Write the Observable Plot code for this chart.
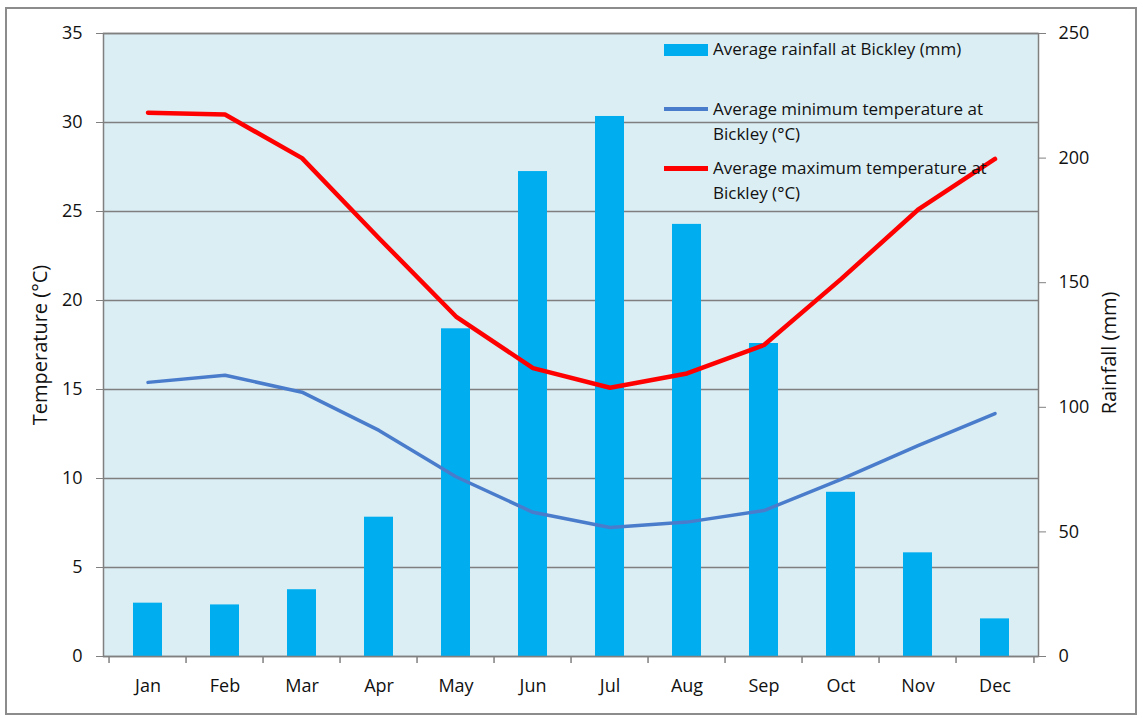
<!DOCTYPE html>
<html>
<head>
<meta charset="utf-8">
<script src="https://cdn.jsdelivr.net/npm/d3@7"></script>
<script src="https://cdn.jsdelivr.net/npm/@observablehq/plot@0.6"></script>
<style>
  html, body { margin: 0; padding: 0; background: #fff; }
  #wrap { position: relative; width: 1143px; height: 718px; font-family: "Open Sans", "Noto Sans", sans-serif; color: #111; overflow: hidden; }
  #border { position: absolute; left: 5px; top: 7px; width: 1132px; height: 708px; border: 2px solid #8c8c8c; box-sizing: border-box; pointer-events: none; }
  #legend { position: absolute; left: 664px; top: 36px; font-size: 17px; line-height: 25px; color: #111; }
  .item { position: absolute; left: 0; white-space: nowrap; }
  .sw { position: absolute; left: 0; width: 44px; }
  .txt { position: absolute; left: 49px; }
</style>
</head>
<body>
<div id="wrap">
  <div id="chart"></div>
  <div id="legend"></div>
  <div id="border"></div>
</div>
<script>
const months = ["Jan","Feb","Mar","Apr","May","Jun","Jul","Aug","Sep","Oct","Nov","Dec"];
const rainfall = [21.4, 20.7, 26.8, 55.9, 131.5, 194.6, 216.7, 173.4, 125.6, 65.9, 41.6, 15.1];
const minTemp = [15.4, 15.8, 14.85, 12.7, 10.1, 8.1, 7.25, 7.55, 8.2, 9.95, 11.85, 13.65];
const maxTemp = [30.55, 30.45, 28.0, 23.5, 19.1, 16.2, 15.1, 15.9, 17.5, 21.2, 25.1, 27.95];
const tempTicks = [0, 5, 10, 15, 20, 25, 30, 35];
const rainTicks = [0, 50, 100, 150, 200, 250];
const seriesNames = ["Average rainfall at Bickley (mm)", "Average minimum temperature at\nBickley (°C)", "Average maximum temperature at\nBickley (°C)"];
const colors = {rain: "#00aeef", min: "#4a7ccc", max: "#ff0000"};

const W = 1143, H = 718, mL = 103, mR = 105, mT = 33, mB = 62;
const k = 35 / 250; // rainfall -> temperature axis
const bw = (W - mL - mR) / months.length;

const data = months.map((m, i) => ({month: m, rain: rainfall[i], min: minTemp[i], max: maxTemp[i]}));

const plot = Plot.plot({
  width: W, height: H,
  marginLeft: mL, marginRight: mR, marginTop: mT, marginBottom: mB,
  style: {fontFamily: "'Open Sans', 'Noto Sans', sans-serif", color: "#111", background: "transparent"},
  x: {type: "band", domain: months, padding: 0},
  y: {domain: [0, 35]},
  marks: [
    Plot.frame({fill: "#dbeef4"}),
    Plot.gridY(tempTicks, {stroke: "#7f7f7f", strokeOpacity: 1, strokeWidth: 1.5}),
    Plot.barY(data, {x: "month", y: d => d.rain * k, fill: colors.rain, insetLeft: 24, insetRight: 24}),
    Plot.line(data, {x: "month", y: "min", stroke: colors.min, strokeWidth: 3.5, strokeLinejoin: "round"}),
    Plot.line(data, {x: "month", y: "max", stroke: colors.max, strokeWidth: 4.5, strokeLinejoin: "round"}),
    Plot.frame({stroke: "#808080", strokeWidth: 1.5}),
    Plot.ruleX(months, {x: d => d, y1: 0, y2: 0, dx: -bw / 2, insetBottom: -7, stroke: "#808080", strokeWidth: 1.5}),
    Plot.ruleX([months[months.length - 1]], {x: d => d, y1: 0, y2: 0, dx: bw / 2, insetBottom: -7, stroke: "#808080", strokeWidth: 1.5}),
    Plot.axisX({tickSize: 0, tickPadding: 23, fontSize: 18, fill: "#111", label: null}),
    Plot.axisY({anchor: "left", ticks: tempTicks, tickSize: 7, tickPadding: 14, fontSize: 18, stroke: "#808080", fill: "#111", label: null}),
    Plot.axisY({anchor: "right", ticks: rainTicks.map(v => v * k), tickFormat: d => String(Math.round(d / k)), tickSize: 7, tickPadding: 13, fontSize: 18, stroke: "#808080", fill: "#111", label: null}),
    Plot.text(["Temperature (°C)"], {frameAnchor: "left", textAnchor: "middle", dx: -63, rotate: -90, fontSize: 20, fill: "#111"}),
    Plot.text(["Rainfall (mm)"], {frameAnchor: "right", textAnchor: "middle", dx: 71, dy: 8, rotate: -90, fontSize: 20, fill: "#111"})
  ]
});
document.getElementById("chart").appendChild(plot);

// legend
const legend = document.getElementById("legend");
const items = [
  {name: seriesNames[0], color: colors.rain, top: 0, sh: 12, so: 8},
  {name: seriesNames[1], color: colors.min, top: 60, sh: 4, so: 11},
  {name: seriesNames[2], color: colors.max, top: 119, sh: 5, so: 11}
];
items.forEach(it => {
  const div = document.createElement("div");
  div.className = "item";
  div.style.top = it.top + "px";
  const sw = document.createElement("div");
  sw.className = "sw";
  sw.style.background = it.color;
  sw.style.height = it.sh + "px";
  sw.style.top = it.so + "px";
  const tx = document.createElement("div");
  tx.className = "txt";
  tx.innerHTML = it.name.split("\n").join("<br>");
  div.appendChild(sw);
  div.appendChild(tx);
  legend.appendChild(div);
});
</script>
</body>
</html>
